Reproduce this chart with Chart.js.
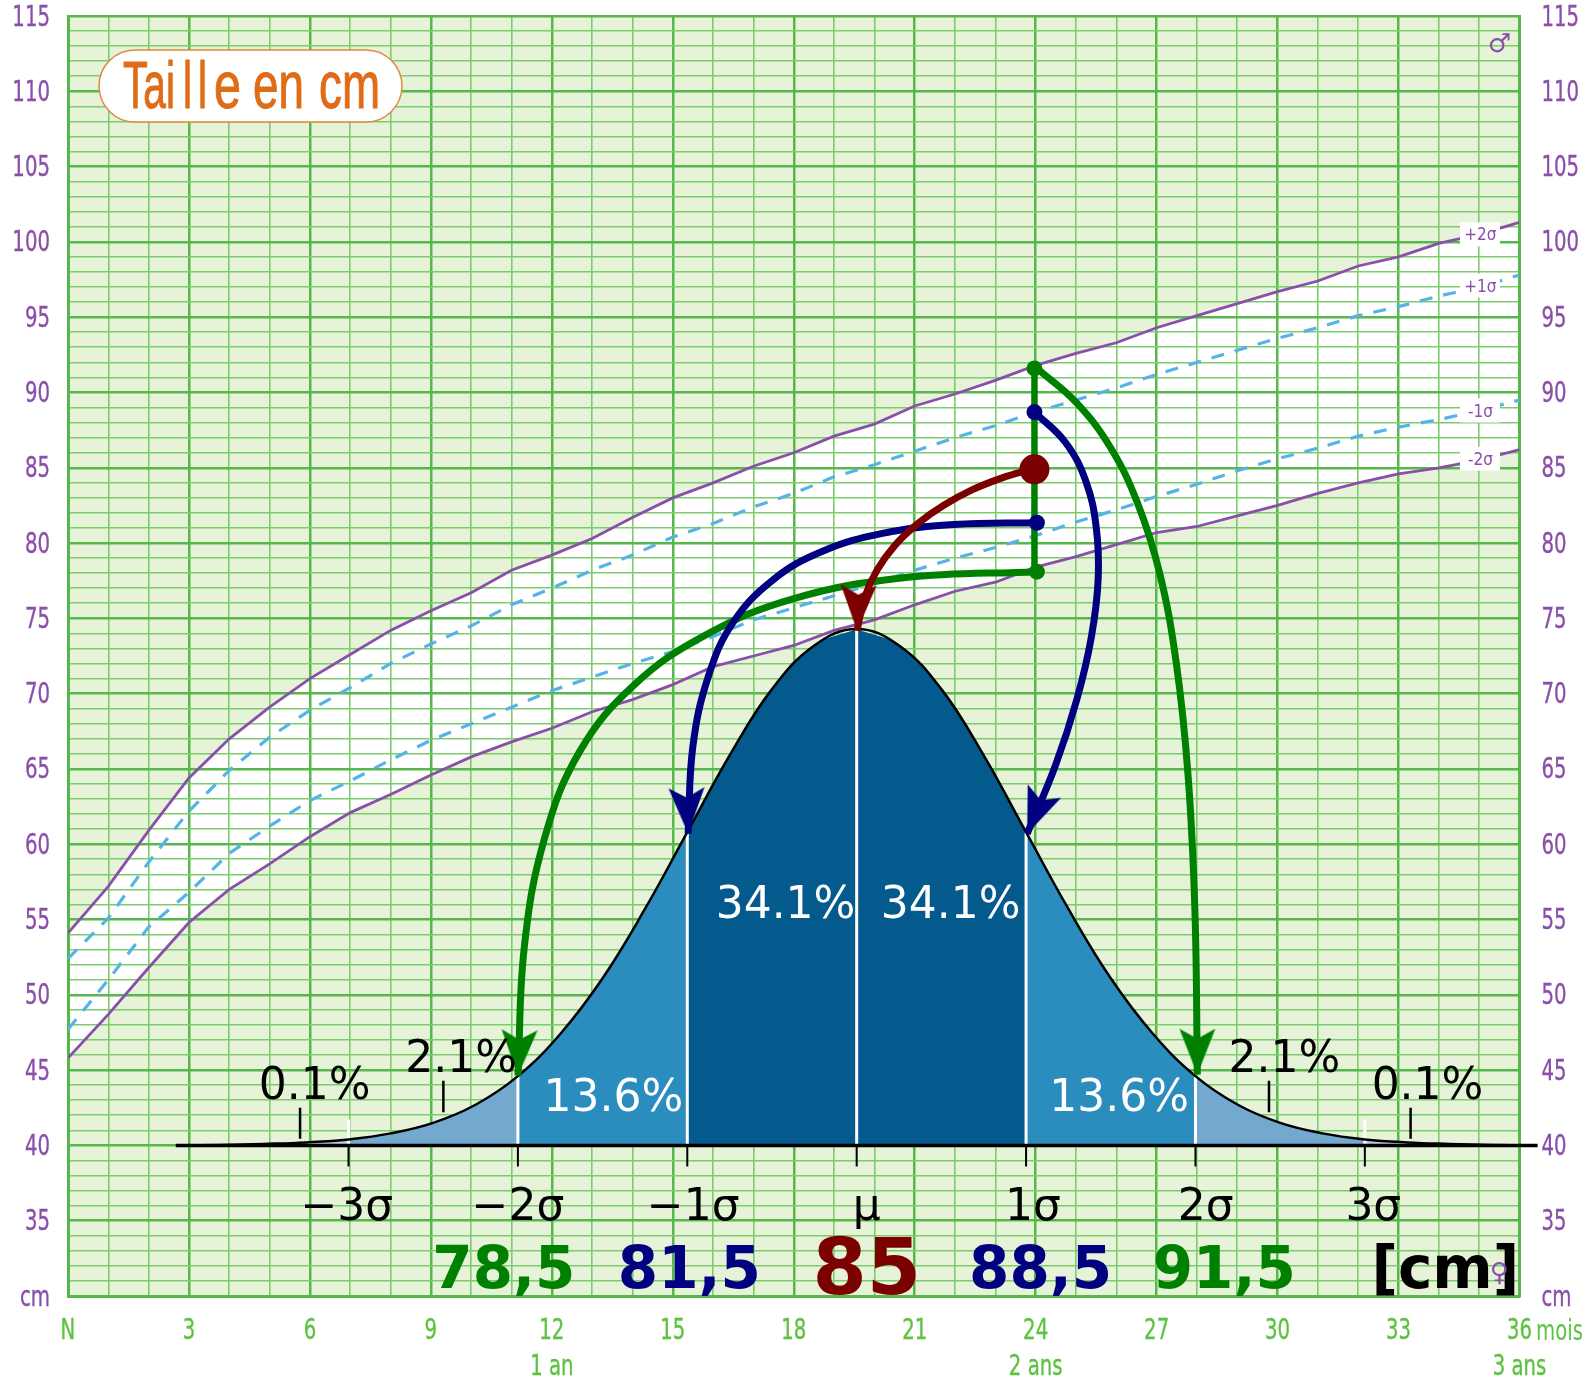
<!DOCTYPE html>
<html>
<head>
<meta charset="utf-8">
<title>Taille en cm</title>
<script src="https://cdn.jsdelivr.net/npm/chart.js@4"></script>
<style>
  body { margin: 0; background: #fff; }
  canvas { display: block; }
</style>
</head>
<body>
<canvas id="chart" width="1590" height="1383"></canvas>
<script>
// growth curves, one value per month 0..36
const months = [...Array(37).keys()];
const plus2 = [54.1,57.2,60.9,64.4,67.0,69.1,71.0,72.6,74.2,75.5,76.7,78.2,79.2,80.3,81.7,83.0,84.0,85.1,86.0,87.1,87.9,89.1,89.9,90.8,91.8,92.6,93.3,94.3,95.1,95.9,96.7,97.4,98.4,99.0,99.9,100.5,101.3];
const plus1 = [52.4,55.1,58.8,62.2,64.9,67.1,68.9,70.4,72.0,73.3,74.5,75.9,77.0,78.2,79.2,80.4,81.3,82.4,83.3,84.4,85.2,86.1,87.0,87.8,88.7,89.5,90.3,91.2,92.0,92.8,93.6,94.3,95.1,95.7,96.4,97.0,97.8];
const minus1 = [47.7,51.0,54.5,56.8,59.4,61.2,62.9,64.2,65.6,66.9,68.0,69.1,70.2,71.1,72.0,72.8,73.8,74.9,75.7,76.5,77.3,78.2,79.0,79.7,80.5,81.4,82.2,83.1,83.9,84.8,85.6,86.3,87.1,87.7,88.2,88.8,89.5];
const minus2 = [45.8,48.7,51.8,54.8,57.0,58.7,60.5,62.1,63.3,64.6,65.8,66.8,67.7,68.8,69.6,70.6,71.8,72.5,73.2,74.2,74.9,75.9,76.8,77.4,78.4,79.1,79.9,80.7,81.1,81.8,82.5,83.3,84.0,84.6,85.0,85.5,86.2];

// bell curve, read in cm on the same height axis, x in sigma
const bellSigma = [-4,-3.75,-3.5,-3.25,-3,-2.75,-2.5,-2.25,-2,-1.75,-1.5,-1.25,-1,-0.75,-0.5,-0.25,0,0.25,0.5,0.75,1,1.25,1.5,1.75,2,2.25,2.5,2.75,3,3.25,3.5,3.75,4];
const bellCm = [40,40.03,40.1,40.2,40.4,40.8,41.5,42.7,44.6,47.4,51.1,55.7,60.8,65.9,70.3,73.2,74.3,73.2,70.3,65.9,60.8,55.7,51.1,47.4,44.6,42.7,41.5,40.8,40.4,40.2,40.1,40.03,40];
const bandColors = ['#bdc9e1','#74a9cf','#2b8cbe','#045a8d','#045a8d','#2b8cbe','#74a9cf','#bdc9e1'];
const bandStarts = [-4,-3,-2,-1,0,1,2,3];

const sigmaTicks = [-3,-2,-1,0,1,2,3];
const dividerTops = [41.7,44.6,60.8,74.3,60.8,44.6,41.7];
const sigmaLabels = ['\u22123\u03c3','\u22122\u03c3','\u22121\u03c3','\u00b5','1\u03c3','2\u03c3','3\u03c3'];
const sigmaLabelPos = [-3.01,-2.0,-0.965,0.06,1.04,2.06,3.05];

const shareLabels = ['0.1%','2.1%','13.6%','34.1%','34.1%','13.6%','2.1%','0.1%'];
const sharePos = [-3.2,-2.335,-1.436,-0.42,0.555,1.549,2.525,3.37];
const shareCm = [43.1,44.9,42.3,55.1,55.1,42.3,44.9,43.1];
const leaderSigma = [-3.286,-2.44,2.434,3.27];
const leaderTop = [42.5,44.3,44.3,42.5];
const leaderBottom = [40.45,42.2,42.2,40.45];

const valueLabels = ['78,5','81,5','85','88,5','91,5','[cm]'];
const valuePos = [-2.083,-0.988,0.06,1.086,2.17,3.475];

// arrows, in months and cm
const greenLeftX = [24.04,20.73,17.98,15.82,14.05,12.7,11.82,11.32,11.16];
const greenLeftY = [78.1,77.69,76.3,73.9,70.6,66.2,60.4,53.24,44.63];
const greenRightX = [24.04,25.01,25.84,26.52,27.08,27.49,27.78,27.95,28.01];
const greenRightY = [91.58,89.32,86.41,82.7,77.95,71.98,64.57,55.55,44.7];
const blueLeftX = [24.04,21.97,20.2,18.7,17.49,16.5,15.89,15.5,15.38];
const blueLeftY = [81.35,81.23,80.64,79.44,77.57,74.75,71.21,66.54,60.7];
const blueRightX = [23.99,24.74,25.24,25.5,25.55,25.38,25.02,24.49,23.79];
const blueRightY = [88.66,86.68,84.14,81.08,77.6,73.74,69.6,65.23,60.7];
const redX = [23.94,23.17,22.42,21.72,21.08,20.52,20.07,19.75,19.57];
const redY = [84.94,84.33,83.53,82.51,81.3,79.88,78.22,76.33,74.18];
const stemX = [23.97,23.97];
const stemY = [91.6,78.1];

const xTickText = {0:'N',3:'3',6:'6',9:'9',12:['12','1 an'],15:'15',18:'18',21:'21',24:['24','2 ans'],27:'27',30:'30',33:'33',36:['36','3 ans']};
const curveTags = ['+2\u03c3','+1\u03c3','-1\u03c3','-2\u03c3'];
const curveTagCm = [100.5,97.1,88.8,85.6];
const titleParts = ['Tai','l','l','e','en','cm'];

const GREEN = '#008000', NAVY = '#000080', MAROON = '#7b0000', PURPLE = '#8a4fa8', SKY = '#55b3e6', GRID = '#56b84a', GRIDLIGHT = '#7ccb6c', AXISGREEN = '#5cc23f';
const DEJAVU = '"DejaVu Sans",sans-serif';
const SQUEEZE = 0.68;

let pts = (xs, ys) => xs.map((x, i) => ({x: x, y: ys[i]}));

// arrowhead sprite, the tip sits on the middle of the canvas
let arrowHead = (color) => {
    let c = document.createElement('canvas');
    c.width = 100; c.height = 100;
    let g = c.getContext('2d');
    g.fillStyle = color;
    g.beginPath();
    g.moveTo(50, 50); g.lineTo(68, 4); g.lineTo(50, 14); g.lineTo(32, 4);
    g.closePath();
    g.fill();
    return c;
};

let arrow = (xs, ys, color, turn) => {
    let last = xs.length - 1;
    return {
        xAxisID: 'x', data: pts(xs, ys), borderColor: color, borderWidth: 7, tension: 0.4, fill: false,
        pointRadius: xs.map((v, i) => i === last ? 1 : 0),
        pointStyle: arrowHead(color), pointRotation: turn
    };
};

let dots = (xs, ys, color, r) => ({
    xAxisID: 'x', data: pts(xs, ys), showLine: false, pointRadius: r, pointBackgroundColor: color, pointBorderWidth: 0
});

let segment = (sx, y0, y1, color, w) => ({
    xAxisID: 'xs', data: pts([sx, sx], [y0, y1]), borderColor: color, borderWidth: w, pointRadius: 0, fill: false
});

// first dataset in the list is painted last in Chart.js, so this runs top to bottom
let datasets = [];
datasets.push(dots([23.97], [84.9], MAROON, 15));
datasets.push(dots([23.97,24.03], [88.7,81.35], NAVY, 8));
datasets.push(dots([23.97,24.03], [91.6,78.1], GREEN, 8));
datasets.push(arrow(redX, redY, MAROON, 2));
datasets.push(arrow(blueLeftX, blueLeftY, NAVY, -2));
datasets.push(arrow(blueRightX, blueRightY, NAVY, 22));
datasets.push(arrow(greenLeftX, greenLeftY, GREEN, 2));
datasets.push(arrow(greenRightX, greenRightY, GREEN, 0));
datasets.push({xAxisID: 'x', data: pts(stemX, stemY), borderColor: GREEN, borderWidth: 6.5, pointRadius: 0});

// bell outline, axis, ticks and white dividers
datasets.push({xAxisID: 'xs', data: pts(bellSigma, bellCm), borderColor: '#000', borderWidth: 2.5, tension: 0.4, pointRadius: 0, clip: false});
datasets.push({xAxisID: 'xs', data: pts([-4.02,4.02], [40,40]), borderColor: '#000', borderWidth: 3.5, pointRadius: 0, clip: false});
sigmaTicks.forEach((s) => datasets.push(segment(s, 40, 38.6, '#000', 2)));
leaderSigma.forEach((s, i) => datasets.push(segment(s, leaderTop[i], leaderBottom[i], '#000', 2.5)));
sigmaTicks.forEach((s, i) => datasets.push(segment(s, 40, dividerTops[i], '#fff', 3)));
bandStarts.forEach((s, i) => {
    let from = bellSigma.indexOf(s);
    let xs = bellSigma.slice(from, from + 5);
    let ys = bellCm.slice(from, from + 5);
    datasets.push({xAxisID: 'xs', data: pts(xs, ys), borderWidth: 0, tension: 0.4, pointRadius: 0, fill: {value: 40}, backgroundColor: bandColors[i], clip: false});
});

// growth curves
datasets.push({xAxisID: 'x', data: pts(months, plus2), borderColor: PURPLE, borderWidth: 2.8, pointRadius: 0});
datasets.push({xAxisID: 'x', data: pts(months, plus1), borderColor: SKY, borderWidth: 3.2, borderDash: [13, 11], pointRadius: 0});
datasets.push({xAxisID: 'x', data: pts(months, minus1), borderColor: SKY, borderWidth: 3.2, borderDash: [13, 11], pointRadius: 0});
datasets.push({xAxisID: 'x', data: pts(months, minus2), borderColor: PURPLE, borderWidth: 2.8, pointRadius: 0});

// pale paper with the white band between the +2 and -2 curves, under the grid
const paperPlugin = {
    id: 'paper',
    beforeDraw(chart) {
        let {ctx, chartArea: a, scales} = chart;
        ctx.save();
        ctx.fillStyle = '#e6f3d9';
        ctx.fillRect(a.left, a.top, a.right - a.left, a.bottom - a.top);
        ctx.fillStyle = '#fff';
        ctx.beginPath();
        months.forEach((m, i) => ctx.lineTo(scales.x.getPixelForValue(m), scales.y.getPixelForValue(plus2[i])));
        [...months].reverse().forEach((m) => ctx.lineTo(scales.x.getPixelForValue(m), scales.y.getPixelForValue(minus2[m])));
        ctx.closePath();
        ctx.fill();
        ctx.restore();
    }
};

const textPlugin = {
    id: 'texts',
    afterDatasetsDraw(chart) {
        let {ctx, scales} = chart;
        let X = (m) => scales.x.getPixelForValue(m);
        let S = (s) => scales.xs.getPixelForValue(s);
        let Y = (v) => scales.y.getPixelForValue(v);
        let put = (t, x, y, font, color) => {
            ctx.font = font;
            ctx.fillStyle = color;
            ctx.fillText(t, x, y);
        };
        ctx.save();
        ctx.textAlign = 'center';
        ctx.textBaseline = 'alphabetic';

        shareLabels.forEach((t, i) => {
            let inside = i >= 2 && i <= 5;
            put(t, S(sharePos[i]), Y(shareCm[i]), '44px ' + DEJAVU, inside ? '#fff' : '#000');
        });
        sigmaLabels.forEach((t, i) => put(t, S(sigmaLabelPos[i]), Y(35.05), '44px ' + DEJAVU, '#000'));

        valueLabels.forEach((t, i) => {
            let colors = [GREEN, NAVY, MAROON, NAVY, GREEN, '#000'];
            let big = t === '85';
            put(t, S(valuePos[i]), Y(big ? 30.1 : 30.55), 'bold ' + (big ? 78 : 58) + 'px ' + DEJAVU, colors[i]);
        });

        // title pill
        ctx.fillStyle = '#fff';
        ctx.strokeStyle = '#e08a3c';
        ctx.lineWidth = 1.5;
        ctx.beginPath();
        ctx.roundRect(99, 50, 303, 72, 36);
        ctx.fill();
        ctx.stroke();
        ctx.textAlign = 'left';
        ctx.font = '66px "Liberation Sans",sans-serif';
        ctx.fillStyle = '#e06c17';
        ctx.strokeStyle = '#e06c17';
        ctx.lineWidth = 1;
        let partLeft = [123, 183, 198, 214, 253, 319];
        let partWide = [52, 9, 9, 27, 51, 61];
        titleParts.forEach((t, i) => {
            ctx.fillText(t, partLeft[i], 108, partWide[i]);
            ctx.strokeText(t, partLeft[i], 108, partWide[i]);
        });
        ctx.textAlign = 'center';

        curveTags.forEach((t, i) => {
            ctx.fillStyle = '#fff';
            ctx.fillRect(1460, Y(curveTagCm[i]) - 12, 40, 24);
            put(t, X(35.03), Y(curveTagCm[i]) + 6, '17px "DejaVu Sans Condensed",sans-serif', PURPLE);
        });

        put('\u2642', X(35.5), Y(112.6), 'bold 26px ' + DEJAVU, PURPLE);
        put('\u2640', X(35.5), Y(31.0), '26px ' + DEJAVU, PURPLE);

        ctx.textAlign = 'left';
        ctx.translate(1536, 1340);
        ctx.scale(0.68, 1);
        put('mois', 0, 0, '29px ' + DEJAVU, AXISGREEN);
        ctx.restore();
    }
};

// no narrow font is installed, so squeeze the axis labels sideways around their anchor
let squeezeLabels = (scale, drop) => {
    scale.drawLabels = function (area) {
        let c = this.ctx;
        this.getLabelItems(area).forEach((item) => {
            let [tx, ty] = item.options.translation;
            c.save();
            c.translate(tx, ty + drop);
            c.scale(SQUEEZE, 1);
            Chart.helpers.renderText(c, item.label, 0, item.textOffset, item.font, {...item.options, translation: undefined});
            c.restore();
        });
    };
};

const heightLabel = (v) => v === 30 ? 'cm' : (v % 5 === 0 ? String(v) : '');

const ctx = document.querySelector('#chart').getContext('2d');
const chart = new Chart(ctx, {
    type: 'line',
    data: {datasets: datasets},
    plugins: [paperPlugin, textPlugin],
    options: {
        responsive: false,
        animation: false,
        events: [],
        layout: {padding: {top: 16, left: 0, right: 0, bottom: 0}},
        plugins: {legend: {display: false}, tooltip: {enabled: false}},
        scales: {
            x: {
                type: 'linear', min: 0, max: 36,
                afterFit: (s) => { s.height = 87; squeezeLabels(s, 0); },
                border: {display: true, color: GRID, width: 3},
                grid: {
                    drawTicks: false,
                    color: (c) => c.tick.value % 3 === 0 ? GRID : GRIDLIGHT,
                    lineWidth: (c) => c.tick.value % 3 === 0 ? 2.5 : 1.6
                },
                ticks: {
                    stepSize: 1, autoSkip: false, maxRotation: 0, padding: 17, color: AXISGREEN,
                    textStrokeColor: AXISGREEN, textStrokeWidth: 0.4,
                    font: {family: DEJAVU, size: 29, lineHeight: 1.25},
                    callback: (v) => xTickText[v] === undefined ? '' : xTickText[v]
                }
            },
            xs: {type: 'linear', axis: 'x', display: false, min: -4.656, max: 3.913},
            y: {
                min: 30, max: 115,
                afterFit: (s) => { s.width = 68; s.paddingTop = 0; s.paddingBottom = 0; squeezeLabels(s, 2); },
                border: {display: true, color: GRID, width: 3},
                grid: {
                    drawTicks: false,
                    color: (c) => c.tick.value % 5 === 0 ? GRID : GRIDLIGHT,
                    lineWidth: (c) => c.tick.value % 5 === 0 ? 2.5 : 1.6
                },
                ticks: {
                    stepSize: 1, autoSkip: false, padding: 18, color: PURPLE,
                    textStrokeColor: PURPLE, textStrokeWidth: 0.4,
                    font: {family: DEJAVU, size: 29},
                    callback: heightLabel
                }
            },
            y2: {
                position: 'right', min: 30, max: 115,
                afterFit: (s) => { s.width = 70.5; s.paddingTop = 0; s.paddingBottom = 0; squeezeLabels(s, 2); },
                border: {display: true, color: GRID, width: 3},
                grid: {display: false},
                ticks: {
                    stepSize: 1, autoSkip: false, padding: 14, color: PURPLE,
                    textStrokeColor: PURPLE, textStrokeWidth: 0.4,
                    font: {family: DEJAVU, size: 29},
                    callback: heightLabel
                }
            }
        }
    }
});
</script>
</body>
</html>
